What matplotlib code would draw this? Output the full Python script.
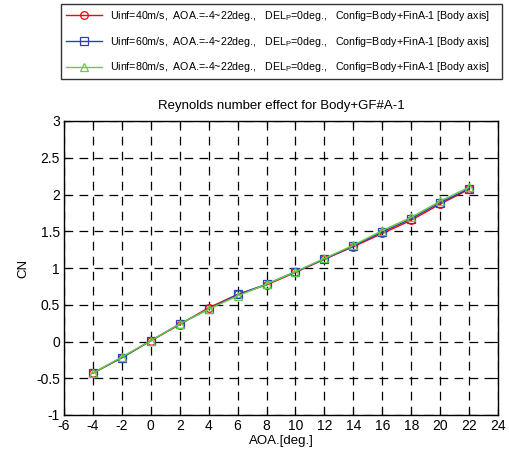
import matplotlib
matplotlib.use("Agg")
import matplotlib.pyplot as plt

plt.rcParams['font.family'] = ['Liberation Sans', 'DejaVu Sans']
plt.rcParams['mathtext.fontset'] = 'custom'
plt.rcParams['mathtext.rm'] = 'Liberation Sans'
plt.rcParams['axes.unicode_minus'] = False

# data
aoa = [-4, -2, 0, 2, 4, 6, 8, 10, 12, 14, 16, 18, 20, 22]
cn_40 = [-0.43, -0.22, 0.01, 0.23, 0.46, 0.64, 0.77, 0.94, 1.12, 1.29, 1.47, 1.65, 1.87, 2.07]
cn_60 = [-0.43, -0.22, 0.01, 0.24, 0.44, 0.64, 0.78, 0.95, 1.12, 1.30, 1.49, 1.67, 1.89, 2.08]
cn_80 = [-0.43, -0.21, 0.01, 0.24, 0.44, 0.62, 0.78, 0.95, 1.13, 1.31, 1.51, 1.69, 1.91, 2.10]
speeds = [40, 60, 80]
xticks = list(range(-6, 25, 2))
yticks = [-1, -0.5, 0, 0.5, 1, 1.5, 2, 2.5, 3]
ytick_labels = ['-1', '-0.5', '0', '0.5', '1', '1.5', '2', '2.5', '3']

fig = plt.figure(figsize=(5.09, 4.55), dpi=100)
ax = fig.add_axes([64 / 509, 1 - 415 / 455, 434 / 509, 294 / 455])

series = [(cn_40, '#ff0000', 'o'), (cn_60, '#2a3fb8', 's'), (cn_80, '#66cc44', '^')]
for (vals, col, mk), u in zip(series, speeds):
    label = (f"Uinf={u}m/s,  AOA.=-4~22deg.,   DEL$_\\mathrm{{P}}$=0deg.,   "
             "Config=Body+FinA-1 [Body axis]")
    ax.plot(aoa, vals, color=col, marker=mk, markersize=5.5, markerfacecolor='none',
            markeredgecolor=col, markeredgewidth=0.9, linewidth=1.0, label=label)

ax.set_xlim(-6, 24)
ax.set_ylim(-1, 3)
ax.set_xticks(xticks)
ax.set_yticks(yticks)
ax.set_yticklabels(ytick_labels)
ax.tick_params(direction='in', top=True, right=True, labelsize=10, length=4, pad=3)
ax.grid(True, color='black', linestyle=(0, (7, 5)), linewidth=0.9)
for s in ax.spines.values():
    s.set_linewidth(1.0)

ax.set_xlabel('AOA.[deg.]', fontsize=9.5, labelpad=1)
ax.set_ylabel('CN', fontsize=9.5, labelpad=5)
ax.set_title('Reynolds number effect for Body+GF#A-1', fontsize=9.5, pad=9)

leg = fig.legend(loc='upper left', bbox_to_anchor=(61 / 509, 1 - 80 / 455, 441 / 509, 76 / 455),
                 mode='expand', fontsize=7.7, handlelength=3.4, frameon=True, fancybox=False,
                 edgecolor='black', borderpad=0.45, labelspacing=1.1, handletextpad=0.7,
                 borderaxespad=0)
leg.get_frame().set_linewidth(1.0)

fig.savefig('out.png', dpi=100)
